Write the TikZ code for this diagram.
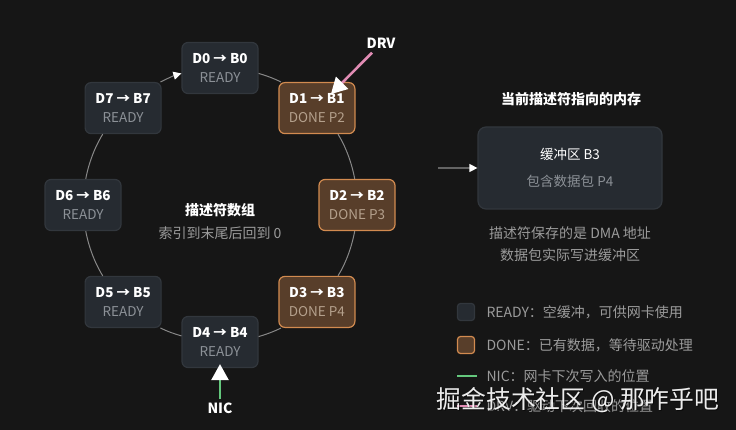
\documentclass[tikz,border=0pt]{standalone}
\usepackage{fontspec}
\setmainfont{Noto Sans CJK SC}
\usepackage{xcolor}
\usetikzlibrary{arrows.meta}

\definecolor{bgcol}{RGB}{22,22,22}
\definecolor{readyfill}{RGB}{38,43,49}
\definecolor{readyline}{RGB}{50,55,61}
\definecolor{readytext}{RGB}{140,145,151}
\definecolor{donefill}{RGB}{88,62,42}
\definecolor{doneline}{RGB}{210,139,80}
\definecolor{donetext}{RGB}{180,160,140}
\definecolor{ringcol}{RGB}{135,135,135}
\definecolor{notetext}{RGB}{155,155,155}
\definecolor{niccol}{RGB}{100,200,125}
\definecolor{drvcol}{RGB}{225,140,180}

\begin{document}
\begin{tikzpicture}[x=1pt, y=-1pt,
    desc/.style={rounded corners=6pt, line width=1.2pt, minimum width=76pt,
        minimum height=51pt, align=center, text=white,
        font=\fontsize{13.5}{19}\selectfont},
    ready/.style={desc, draw=readyline, fill=readyfill},
    done/.style={desc, draw=doneline, fill=donefill},
    ring/.style={draw=ringcol, line width=1pt, looseness=0.85},
    pointer/.style={line width=2.6pt,
        -{Triangle[width=17pt, length=16pt, color=white]}},
    heading/.style={text=white, font=\fontsize{14}{16}\selectfont\bfseries},
    legtext/.style={anchor=west, text=notetext, font=\fontsize{14}{16}\selectfont}]
    \useasboundingbox[fill=bgcol] (0,0) rectangle (736,430);

    % Descriptor ring
    \node[ready] (d0) at (220,68)    {\textbf{D0 → B0}\\\textcolor{readytext}{READY}};
    \node[done]  (d1) at (316.9,108.1) {\textbf{D1 → B1}\\\textcolor{donetext}{DONE P2}};
    \node[done]  (d2) at (357,205)   {\textbf{D2 → B2}\\\textcolor{donetext}{DONE P3}};
    \node[done]  (d3) at (316.9,301.9) {\textbf{D3 → B3}\\\textcolor{donetext}{DONE P4}};
    \node[ready] (d4) at (220,342)   {\textbf{D4 → B4}\\\textcolor{readytext}{READY}};
    \node[ready] (d5) at (123.1,301.9) {\textbf{D5 → B5}\\\textcolor{readytext}{READY}};
    \node[ready] (d6) at (83,205)    {\textbf{D6 → B6}\\\textcolor{readytext}{READY}};
    \node[ready] (d7) at (123.1,108.1) {\textbf{D7 → B7}\\\textcolor{readytext}{READY}};

    % Ring arcs (clockwise)
    \draw[ring] (d0.-8.1)   to[out=-16.1,  in=153.3]  (d1.144.2);
    \draw[ring] (d1.-51.8)  to[out=-58.6,  in=100.7]  (d2.95.4);
    \draw[ring] (d2.-95.4)  to[out=-100.7, in=58.6]   (d3.51.8);
    \draw[ring] (d3.-144.2) to[out=-153.3, in=16.1]   (d4.8.1);
    \draw[ring] (d4.171.9)  to[out=163.9,  in=-26.7]  (d5.-35.8);
    \draw[ring] (d5.128.2)  to[out=121.4,  in=-79.3]  (d6.-84.6);
    \draw[ring] (d6.84.6)   to[out=79.3,   in=-121.4] (d7.-128.2);
    \draw[ring, -{Triangle[width=8pt, length=8pt, color=white]}]
        (d7.35.8) to[out=26.7, in=-163.9] (d0.188.1);

    % Center labels
    \node[heading] (ringtitle) at (220,210) {描述符数组};
    \node[text=notetext, font=\fontsize{14}{16}\selectfont] (ringnote) at (220,233) {索引到末尾后回到 0};

    % Pointers
    \node[heading] (nicl) at (220,408) {NIC};
    \draw[pointer, niccol] (nicl.north) -- ([yshift=4pt]d4.south);
    \node[heading] (drvl) at (381,43) {DRV};
    \draw[pointer, drvcol] ([shift={(-9,1)}]drvl.south) -- ([shift={(14,-14)}]d1.center);

    % Buffer panel
    \node[heading] (buftitle) at (571,99) {当前描述符指向的内存};
    \node[draw=readyline, fill=readyfill, line width=1.2pt, rounded corners=8pt,
        minimum width=184pt, minimum height=82pt, align=center, text=white,
        font=\fontsize{13.5}{27}\selectfont] (buf) at (570,168)
        {缓冲区 B3\\\textcolor{readytext}{包含数据包 P4}};
    \coordinate (bufin) at (438,168);
    \draw[draw=ringcol!130, line width=1.2pt, -{Triangle[width=8pt, length=8pt, color=white]}] (bufin) -- (buf.west);
    \node[text=notetext, align=center, font=\fontsize{14}{22}\selectfont] (bufnote) at (570,244)
        {描述符保存的是 DMA 地址\\数据包实际写进缓冲区};

    % Legend
    \node[ready, minimum width=17pt, minimum height=17pt, rounded corners=3pt] (legready) at (466,312) {};
    \node[legtext] (legreadyt) at (483,312) {READY：空缓冲，可供网卡使用};
    \node[done, minimum width=17pt, minimum height=17pt, rounded corners=3pt] (legdone) at (466,345) {};
    \node[legtext] (legdonet) at (483,345) {DONE：已有数据，等待驱动处理};
    \draw[niccol, line width=2.6pt] (457,376) -- (477,376);
    \node[legtext] (legnict) at (483,376) {NIC：网卡下次写入的位置};
    \draw[drvcol, line width=2.6pt] (457,406) -- (477,406);
    \node[legtext] (legdrvt) at (483,406) {DRV：驱动下次回收的位置};

    % Watermark
    \node[text=black, opacity=0.5, font=\fontsize{24.8}{26}\selectfont] (markshadow) at (579,401) {掘金技术社区 @ 那咋乎吧};
    \node[text=white, opacity=0.92, font=\fontsize{24.8}{26}\selectfont] (mark) at (578,400) {掘金技术社区 @ 那咋乎吧};
\end{tikzpicture}
\end{document}
